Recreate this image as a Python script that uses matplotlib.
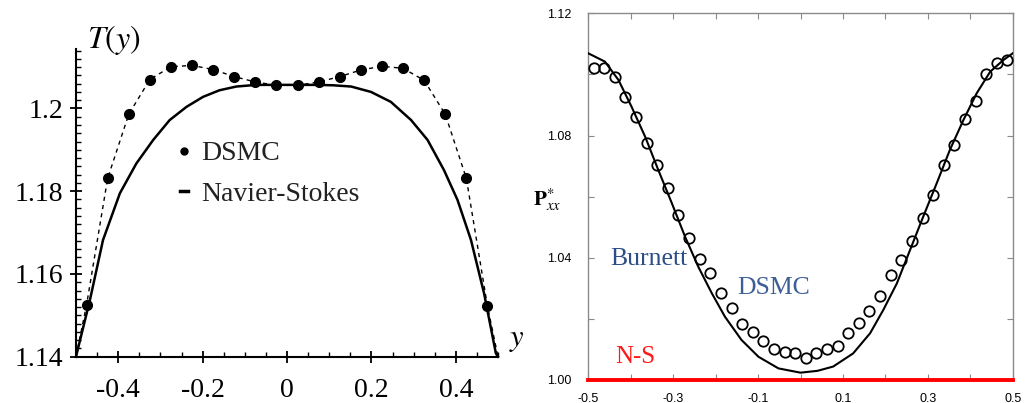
import numpy as np
import matplotlib
matplotlib.use('Agg')
import matplotlib.pyplot as plt
from matplotlib.ticker import MultipleLocator
from matplotlib.lines import Line2D

plt.rcParams['mathtext.fontset'] = 'stix'
plt.rcParams['axes.unicode_minus'] = False

#---------------------------------------------------------
# left panel: T(y), DSMC points and Navier-Stokes curve
dsmcT_x = [-0.475, -0.425, -0.375, -0.325, -0.275, -0.225, -0.175, -0.125, -0.075, -0.025,
           0.025, 0.075, 0.125, 0.175, 0.225, 0.275, 0.325, 0.375, 0.425, 0.475]
dsmcT_y = [1.1525, 1.1831, 1.1986, 1.2070, 1.2101, 1.2104, 1.2094, 1.2077, 1.2064, 1.2056,
           1.2056, 1.2064, 1.2077, 1.2093, 1.2102, 1.2097, 1.2068, 1.1986, 1.1831, 1.1522]
wall_x = [-0.5, 0.5]
wall_T = 1.14

nsT_x = [-0.5, -0.467, -0.436, -0.396, -0.357, -0.317, -0.278, -0.238, -0.199, -0.160,
         -0.120, -0.073, 0.0, 0.073, 0.110, 0.152, 0.199, 0.246, 0.294, 0.333,
         0.372, 0.404, 0.436, 0.467, 0.495, 0.5]
nsT_y = [1.14, 1.1537, 1.1682, 1.1795, 1.1867, 1.1924, 1.1972, 1.2004, 1.2028, 1.2044,
         1.2053, 1.2057, 1.2057, 1.2057, 1.2056, 1.2053, 1.2040, 1.2016, 1.1972, 1.1924,
         1.1851, 1.1779, 1.1682, 1.1553, 1.1408, 1.14]

#---------------------------------------------------------
# right panel: Pxx*, DSMC circles, Burnett curve, N-S level
dsmcP_x = [-0.4875, -0.4625, -0.4375, -0.4125, -0.3875, -0.3625, -0.3375, -0.3125, -0.2875, -0.2625,
           -0.2375, -0.2125, -0.1875, -0.1625, -0.1375, -0.1125, -0.0875, -0.0625, -0.0375, -0.0125,
           0.0125, 0.0375, 0.0625, 0.0875, 0.1125, 0.1375, 0.1625, 0.1875, 0.2125, 0.2375,
           0.2625, 0.2875, 0.3125, 0.3375, 0.3625, 0.3875, 0.4125, 0.4375, 0.4625, 0.4875]
dsmcP_y = [1.1020, 1.1020, 1.0990, 1.0925, 1.0862, 1.0777, 1.0704, 1.0627, 1.0540, 1.0464,
           1.0395, 1.0351, 1.0286, 1.0235, 1.0183, 1.0158, 1.0129, 1.0100, 1.0093, 1.0087,
           1.0071, 1.0089, 1.0100, 1.0111, 1.0153, 1.0185, 1.0227, 1.0275, 1.0344, 1.0393,
           1.0456, 1.0529, 1.0605, 1.0704, 1.0769, 1.0853, 1.0914, 1.1001, 1.1036, 1.1047]

burnett_x = [-0.5, -0.461, -0.429, -0.398, -0.366, -0.335, -0.303, -0.272, -0.241, -0.209,
             -0.178, -0.139, -0.099, -0.052, 0.0, 0.040, 0.077, 0.124, 0.164, 0.195,
             0.227, 0.258, 0.289, 0.321, 0.352, 0.384, 0.415, 0.447, 0.478, 0.5]
burnett_y = [1.1069, 1.1042, 1.0982, 1.0894, 1.0796, 1.0687, 1.0578, 1.0469, 1.0371, 1.0284,
             1.0207, 1.0131, 1.0076, 1.0038, 1.0024, 1.0030, 1.0044, 1.0087, 1.0153, 1.0229,
             1.0316, 1.0425, 1.0534, 1.0644, 1.0753, 1.0851, 1.0938, 1.1009, 1.1047, 1.1069]
ns_level = 1.00

#=========================================================
W, H = 1026.0, 403.0
fig = plt.figure(figsize=(W/100, H/100), dpi=100)

serif = 'Liberation Serif'
sans = 'Liberation Sans'

#--------------------------- left
ax1 = fig.add_axes([76/W, (H-356.7)/H, 422/W, (356.7-49.3)/H])
dash_x = [wall_x[0]] + dsmcT_x + [wall_x[1]]
dash_y = [wall_T] + dsmcT_y + [wall_T]
ax1.plot(dash_x, dash_y, color='black', lw=1.0, ls=(0, (3, 3)), zorder=2)
ax1.plot(nsT_x, nsT_y, color='black', lw=1.8, zorder=3, clip_on=False)
ax1.plot(dsmcT_x, dsmcT_y, 'o', color='black', ms=7, zorder=4, clip_on=False)

ax1.set_xlim(-0.5, 0.5)
ax1.set_ylim(1.14, 1.2143)
for s in ['top', 'right']:
	ax1.spines[s].set_visible(False)
for s in ['left', 'bottom']:
	ax1.spines[s].set_linewidth(1.5)

ax1.set_yticks([1.14, 1.16, 1.18, 1.2])
ax1.set_yticklabels(['1.14', '1.16', '1.18', '1.2'])
ax1.set_xticks([-0.4, -0.2, 0, 0.2, 0.4])
ax1.set_xticklabels(['-0.4', '-0.2', '0', '0.2', '0.4'])
ax1.yaxis.set_minor_locator(MultipleLocator(0.002))
ax1.xaxis.set_minor_locator(MultipleLocator(0.05))
ax1.tick_params(which='major', direction='inout', length=8, width=1.3, labelsize=20)
ax1.tick_params(which='minor', direction='in', length=3.5, width=1.0)
ax1.tick_params(axis='y', which='major', pad=5)
ax1.tick_params(axis='x', which='major', pad=11)
for lab in ax1.get_xticklabels() + ax1.get_yticklabels():
	lab.set_fontfamily(serif)

fig.text(87/W, 1-40/H, r'$T(y)$', fontsize=23, ha='left', va='center')
fig.text(517/W, 1-340/H, r'$y$', fontsize=22, ha='center', va='center')

handles = [Line2D([], [], color='black', marker='o', ms=5, ls='none'),
           Line2D([], [], color='black', lw=2.5)]
leg = ax1.legend(handles, ['DSMC', 'Navier-Stokes'], loc='upper left',
                 bbox_to_anchor=(180/W, 1-141/H), bbox_transform=fig.transFigure,
                 frameon=False, handlelength=0.3, handletextpad=0.45, borderpad=0,
                 borderaxespad=0, labelspacing=0.55, prop={'family': serif, 'size': 20})
for t in leg.get_texts():
	t.set_color('#222222')

#--------------------------- right
ax2 = fig.add_axes([588.3/W, 23/H, 424.4/W, 366.7/H])
ax2.plot(burnett_x, burnett_y, color='black', lw=1.5, zorder=3)
ax2.plot(dsmcP_x, dsmcP_y, 'o', mfc='none', mec='black', ms=7.5, mew=1.3, zorder=4)
ax2.axhline(ns_level, color='red', lw=2.8, clip_on=False, zorder=6)

ax2.set_xlim(-0.5, 0.5)
ax2.set_ylim(1.00, 1.12)
for s in ax2.spines.values():
	s.set_color('#8a8a8a')
	s.set_linewidth(1.0)
ax2.set_xticks([-0.5, -0.3, -0.1, 0.1, 0.3, 0.5])
ax2.set_xticklabels(['-0.5', '-0.3', '-0.1', '0.1', '0.3', '0.5'])
ax2.set_xticks([-0.4, -0.2, 0.0, 0.2, 0.4], minor=True)
ax2.set_yticks([1.00, 1.04, 1.08, 1.12])
ax2.set_yticklabels(['1.00', '1.04', '1.08', '1.12'])
ax2.set_yticks([1.02, 1.06, 1.10], minor=True)
ax2.tick_params(which='both', direction='in', length=4, width=0.8, color='#8a8a8a',
                top=True, right=True, labelsize=9)
ax2.tick_params(axis='y', pad=12)
ax2.tick_params(axis='x', pad=9)
for lab in ax2.get_xticklabels() + ax2.get_yticklabels():
	lab.set_fontfamily(sans)

ax2.text(-0.449, 1.0376, 'Burnett', color='#2c4d85', fontsize=18.5, family=serif, ha='left', va='baseline')
ax2.text(-0.150, 1.0281, 'DSMC', color='#3d5f96', fontsize=18.5, family=serif, ha='left', va='baseline')
ax2.text(-0.437, 1.0057, 'N-S', color='#ff1a1a', fontsize=18, family=serif, ha='left', va='baseline')

fig.text(547/W, 1-200/H, r'$\mathbf{P}^{*}_{xx}$', fontsize=15, ha='center', va='center')

fig.savefig('out.png', dpi=100)
